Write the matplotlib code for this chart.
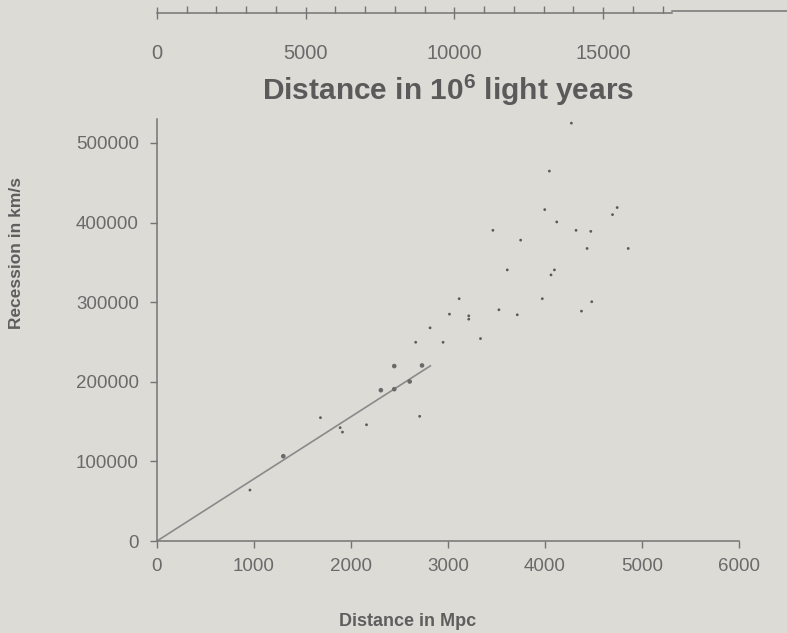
import matplotlib
matplotlib.use("Agg")
import matplotlib.pyplot as plt
from matplotlib.lines import Line2D
from matplotlib.ticker import FixedLocator

plt.rcParams['font.family'] = ['Liberation Sans', 'DejaVu Sans']
plt.rcParams['mathtext.default'] = 'regular'

# Data (distance in Mpc, recession velocity in km/s)
dist_small = [958, 1685, 1888, 1912, 2160, 2708, 2667, 2815, 2949, 3015, 3115,
              3214, 3214, 3335, 3463, 3525, 3611, 3714, 3749, 3972, 3997, 4045,
              4062, 4097, 4121, 4272, 4320, 4376, 4434, 4472, 4482, 4696, 4744, 4858]
vel_small = [64000, 154900, 142300, 136800, 146000, 156600, 249600, 267700, 249600,
             284900, 304300, 282800, 278600, 254200, 390200, 290400, 340500, 284100,
             377900, 304300, 416200, 464600, 334200, 340500, 400700, 524800, 390200,
             288700, 367400, 388900, 300500, 409900, 418800, 367400]
dist_large = [1302, 2308, 2446, 2446, 2605, 2732]
vel_large = [106500, 189400, 219700, 190700, 200300, 220500]

fit_dist = [0, 2825]
fit_vel = [0, 220500]

x_ticks = [0, 1000, 2000, 3000, 4000, 5000, 6000]
y_ticks = [0, 100000, 200000, 300000, 400000, 500000]
ly_major = [0, 5000, 10000, 15000]
ly_minor = list(range(1000, 18000, 1000))
MLY_PER_MPC = 3.2616

bg = '#dcdbd6'
txt = '#6a6a6a'
axc = '#747474'

W, H = 787, 633
fig = plt.figure(figsize=(W / 100, H / 100), dpi=100, facecolor=bg)

left, right = 157 / W, 739 / W
bottom, top = 1 - 541 / H, 1 - 119 / H
ax = fig.add_axes([left, bottom, right - left, top - bottom])
ax.set_facecolor(bg)
ax.set_xlim(0, 6000)
ax.set_ylim(0, 530000)

ax.plot(fit_dist, fit_vel, color='#8a8a8a', lw=1.2, solid_capstyle='butt')
ax.scatter(dist_small, vel_small, s=4, color='#5a5a5a', edgecolors='none', zorder=3)
ax.scatter(dist_large, vel_large, s=11, color='#6a6a6a', edgecolors='none', zorder=3)

for s in ['top', 'right']:
    ax.spines[s].set_visible(False)
for s in ['left', 'bottom']:
    ax.spines[s].set_color(axc)
    ax.spines[s].set_linewidth(1.1)

ax.set_xticks(x_ticks)
ax.set_xticklabels([str(v) for v in x_ticks])
ax.set_yticks(y_ticks)
ax.set_yticklabels([str(v) for v in y_ticks])
ax.tick_params(axis='both', colors=axc, labelcolor=txt, length=5, width=1,
               labelsize=13.5, direction='out')
ax.tick_params(axis='x', pad=7)
ax.tick_params(axis='y', pad=8)

fig.text(408 / W, 1 - 622 / H, 'Distance in Mpc', ha='center', va='center',
         fontsize=13, fontweight='bold', color='#5e5e5e')
fig.text(17 / W, 1 - 253 / H, 'Recession in km/s', ha='center', va='center',
         rotation=90, fontsize=12.5, fontweight='bold', color='#5e5e5e')
fig.text(448 / W, 1 - 90 / H, 'Distance in 10$^{6}$ light years', ha='center',
         va='center', fontsize=21.5, fontweight='bold', color='#5a5a5a')

# top axis in light years
axt = fig.add_axes([left, 1 - 13 / H, right - left, 0.001])
axt.patch.set_visible(False)
axt.set_xlim(0, 6000 * MLY_PER_MPC)
axt.set_ylim(0, 1)
for s in ['top', 'right', 'left']:
    axt.spines[s].set_visible(False)
axt.spines['bottom'].set_bounds(0, 17300)
axt.spines['bottom'].set_color(axc)
axt.spines['bottom'].set_linewidth(1.1)
axt.set_yticks([])
axt.xaxis.set_major_locator(FixedLocator(ly_major))
axt.xaxis.set_minor_locator(FixedLocator([v for v in ly_minor if v not in ly_major]))
axt.set_xticklabels([str(v) for v in ly_major])
axt.tick_params(axis='x', which='major', direction='inout', length=9, width=1,
                colors=axc, labelcolor=txt, labelsize=14.5, pad=18)
axt.tick_params(axis='x', which='minor', direction='in', length=5, width=1, colors=axc)

fig.add_artist(Line2D([672 / W, 1.0], [1 - 11 / H, 1 - 11 / H],
                      transform=fig.transFigure, color=axc, lw=1.1))

fig.savefig('out.png', dpi=100, facecolor=bg)
